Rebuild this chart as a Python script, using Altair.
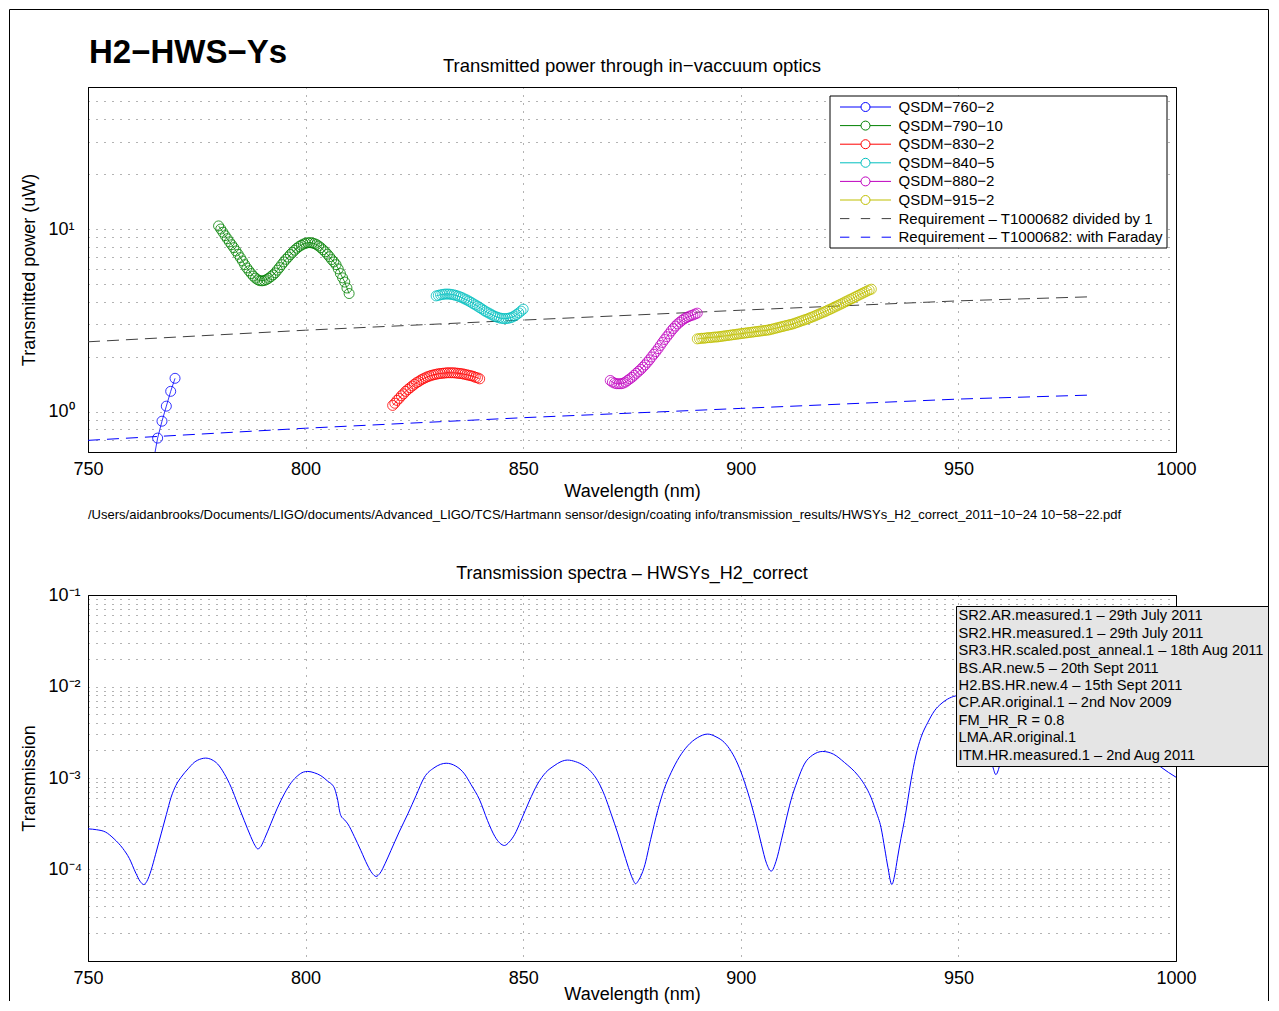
import altair as alt
import numpy as np
import pandas as pd

FONT = "Liberation Sans"

MAIN_TITLE = "H2−HWS−Ys"
TOP_TITLE = "Transmitted power through in−vaccuum optics"
BOTTOM_TITLE = "Transmission spectra – HWSYs_H2_correct"
X_TITLE = "Wavelength (nm)"
TOP_Y_TITLE = "Transmitted power (uW)"
BOTTOM_Y_TITLE = "Transmission"
FILE_PATH = ("/Users/aidanbrooks/Documents/LIGO/documents/Advanced_LIGO/TCS/Hartmann sensor/"
             "design/coating info/transmission_results/HWSYs_H2_correct_2011−10−24 10−58−22.pdf")

QSDM_NAMES = ["QSDM−760−2", "QSDM−790−10", "QSDM−830−2", "QSDM−840−5", "QSDM−880−2",
              "QSDM−915−2"]
QSDM_COLORS = ["#0000ff", "#008000", "#ff0000", "#00bfbf", "#bf00bf", "#bfbf00"]
REQ_NAMES = ["Requirement – T1000682 divided by 1", "Requirement – T1000682: with Faraday"]
REQ_COLORS = ["#404040", "#0000ff"]
SERIES_NAMES = QSDM_NAMES + REQ_NAMES
SERIES_COLORS = QSDM_COLORS + REQ_COLORS
LINE_CIRCLE = "M-3,0H-0.53M0.53,0H3M0.53,0A0.53,0.53,0,1,1,-0.53,0A0.53,0.53,0,1,1,0.53,0"
DASHES = "M-3,0H-1.9M-0.55,0H0.55M1.9,0H3"

# ---- QSDM measurements (transmitted power, uW) ----
WL_760 = [765, 766, 767, 768, 769, 770]
P_760 = [0.53, 0.715, 0.885, 1.07, 1.29, 1.52]

P_790 = [10.4, 10.0, 9.6, 9.2, 8.85, 8.5, 8.2, 7.9, 7.58, 7.27,
         6.97, 6.68, 6.38, 6.12, 5.9, 5.7, 5.52, 5.38, 5.27, 5.21,
         5.2, 5.22, 5.28, 5.37, 5.48, 5.6, 5.75, 5.95, 6.15, 6.38,
         6.6, 6.82, 7.02, 7.25, 7.45, 7.66, 7.85, 8.02, 8.15, 8.27,
         8.36, 8.41, 8.42, 8.39, 8.32, 8.22, 8.07, 7.9, 7.7, 7.5,
         7.28, 7.05, 6.8, 6.6, 6.38, 6.05, 5.7, 5.4, 5.12, 4.75, 4.43]
P_830 = [1.08, 1.11, 1.15, 1.18, 1.22, 1.25, 1.29, 1.32, 1.35, 1.38,
         1.41, 1.44, 1.46, 1.49, 1.51, 1.53, 1.55, 1.565, 1.58, 1.59,
         1.60, 1.61, 1.615, 1.62, 1.625, 1.63, 1.63, 1.63, 1.63, 1.625,
         1.62, 1.615, 1.61, 1.60, 1.59, 1.58, 1.57, 1.56, 1.54, 1.53, 1.51]
P_840 = [4.30, 4.33, 4.36, 4.38, 4.40, 4.40, 4.40, 4.38, 4.36, 4.33,
         4.29, 4.25, 4.20, 4.14, 4.09, 4.03, 3.97, 3.90, 3.84, 3.78,
         3.71, 3.65, 3.58, 3.52, 3.47, 3.42, 3.37, 3.32, 3.29, 3.26,
         3.24, 3.23, 3.23, 3.24, 3.26, 3.29, 3.34, 3.40, 3.47, 3.55, 3.64]
P_880 = [1.48, 1.45, 1.43, 1.42, 1.42, 1.42, 1.43, 1.45, 1.48, 1.51,
         1.54, 1.58, 1.62, 1.66, 1.70, 1.75, 1.80, 1.86, 1.92, 1.99,
         2.06, 2.13, 2.21, 2.30, 2.39, 2.48, 2.57, 2.66, 2.76, 2.85,
         2.94, 3.02, 3.09, 3.16, 3.22, 3.27, 3.31, 3.35, 3.38, 3.42, 3.46]
P_915 = [2.50, 2.51, 2.52, 2.52, 2.53, 2.54, 2.54, 2.55, 2.56, 2.56,
         2.57, 2.58, 2.59, 2.60, 2.61, 2.62, 2.63, 2.64, 2.65, 2.66,
         2.67, 2.68, 2.69, 2.70, 2.71, 2.72, 2.73, 2.74, 2.75, 2.76,
         2.77, 2.78, 2.79, 2.80, 2.82, 2.84, 2.86, 2.88, 2.90, 2.92,
         2.94, 2.96, 2.98, 3.00, 3.02, 3.05, 3.08, 3.11, 3.14, 3.17,
         3.20, 3.23, 3.27, 3.30, 3.34, 3.38, 3.42, 3.46, 3.50, 3.54,
         3.59, 3.63, 3.68, 3.73, 3.78, 3.83, 3.88, 3.93, 3.99, 4.04,
         4.10, 4.15, 4.21, 4.27, 4.33, 4.39, 4.45, 4.51, 4.57, 4.63, 4.68]
STEP = 0.5
STARTS = {"QSDM−790−10": 780, "QSDM−830−2": 820, "QSDM−840−5": 830,
          "QSDM−880−2": 870, "QSDM−915−2": 890}

# ---- requirement curves ----
REQ_WL = [750, 800, 850, 900, 950, 980]
REQ_P = [2.41, 2.79, 3.17, 3.59, 4.04, 4.25]
REQ_FARADAY_P = [0.695, 0.81, 0.925, 1.04, 1.17, 1.23]

# ---- transmission spectrum ----
SPEC_WL = [750, 752, 754, 756, 758, 759.5, 761, 762, 762.8, 763.5, 764.5, 765.5, 766.8, 768,
           769.1, 770.2, 771.4, 773, 774.4, 776, 777, 778.5, 779.8, 781.3, 782.9, 784.4,
           785.9, 787.4, 788.4, 789, 789.7, 790.6, 792, 793.5, 795.1, 796.7, 798.2, 799.5,
           800.5, 802, 803.5, 805, 806.6, 807, 807.4, 807.8, 808.1, 809, 809.7, 811.2,
           812.7, 814.2, 815.3, 816.2, 817.1, 818.3, 819.6, 821.5, 823.5, 825.4, 827.3,
           829.5, 831, 832.3, 834.5, 836.5, 838, 840, 841.8, 843.5, 844.6, 845.7, 846.8,
           848, 849.5, 851.4, 853.3, 855.2, 857.1, 858.7, 860.2, 862, 864, 865.6, 867.1,
           868.7, 870.2, 871.7, 873.2, 874.5, 875.3, 875.8, 876.5, 877.8, 879.3, 880.9,
           882.4, 884, 885.9, 887.8, 890, 892.4, 894.3, 896.2, 897.8, 899.3, 900.9, 902.4,
           903.6, 904.7, 905.9, 907, 908.1, 909.3, 910.4, 911.5, 913, 914.6, 916.5, 918.8,
           921.3, 923.8, 926.9, 928.4, 929.9, 931.1, 932.2, 933.1, 933.8, 934.7, 935.4,
           936, 936.8, 937.6, 939.1, 940.2, 941.4, 943, 944.5, 946, 947.5, 949.4, 951,
           953, 955, 956.5, 957.9, 958.6, 959.4, 960.5, 962, 965, 970, 975, 980, 985, 990,
           994, 996.6, 1000]
SPEC_T = [2.78e-4, 2.72e-4, 2.57e-4, 2.16e-4, 1.70e-4, 1.32e-4, 9.1e-5, 7.4e-5, 6.84e-5,
          7.4e-5, 9.8e-5, 1.45e-4, 2.45e-4, 3.98e-4, 6.17e-4, 8.3e-4, 1.02e-3, 1.26e-3,
          1.48e-3, 1.62e-3, 1.65e-3, 1.58e-3, 1.42e-3, 1.12e-3, 7.9e-4, 5.2e-4, 3.43e-4,
          2.29e-4, 1.82e-4, 1.68e-4, 1.78e-4, 2.19e-4, 3.16e-4, 4.68e-4, 6.7e-4, 8.9e-4,
          1.06e-3, 1.16e-3, 1.18e-3, 1.14e-3, 1.06e-3, 9.3e-4, 7.8e-4, 6.8e-4, 5.66e-4,
          4.37e-4, 3.88e-4, 3.47e-4, 3.15e-4, 2.29e-4, 1.61e-4, 1.12e-4, 9.1e-5, 8.4e-5,
          9.1e-5, 1.17e-4, 1.61e-4, 2.57e-4, 4.06e-4, 6.46e-4, 1.02e-3, 1.29e-3, 1.41e-3,
          1.45e-3, 1.35e-3, 1.11e-3, 8.5e-4, 5.75e-4, 3.43e-4, 2.29e-4, 1.95e-4, 1.83e-4,
          2.0e-4, 2.4e-4, 3.43e-4, 5.6e-4, 8.6e-4, 1.15e-3, 1.36e-3, 1.51e-3, 1.57e-3,
          1.51e-3, 1.36e-3, 1.17e-3, 9.35e-4, 6.46e-4, 4.06e-4, 2.51e-4, 1.48e-4, 9.5e-5,
          7.6e-5, 6.98e-5, 7.6e-5, 1.06e-4, 2.14e-4, 4.4e-4, 7.6e-4, 1.15e-3, 1.70e-3,
          2.25e-3, 2.75e-3, 3.02e-3, 2.82e-3, 2.45e-3, 1.95e-3, 1.42e-3, 8.9e-4, 5.2e-4,
          3.16e-4, 1.91e-4, 1.17e-4, 9.6e-5, 1.23e-4, 2.07e-4, 3.47e-4, 5.66e-4, 9.3e-4,
          1.42e-3, 1.78e-3, 1.95e-3, 1.82e-3, 1.48e-3, 1.07e-3, 8.5e-4, 6.17e-4, 4.27e-4,
          2.9e-4, 1.66e-4, 1.06e-4, 6.85e-5, 8.9e-5, 1.33e-4, 2.19e-4, 3.43e-4, 9.35e-4,
          1.74e-3, 2.77e-3, 4.07e-3, 5.42e-3, 6.46e-3, 7.28e-3, 7.9e-3, 8.1e-3, 7.1e-3,
          4.5e-3, 2.4e-3, 1.33e-3, 1.09e-3, 1.33e-3, 2.4e-3, 4.0e-3, 5.6e-3, 6.3e-3,
          5.6e-3, 4.5e-3, 3.2e-3, 2.2e-3, 1.66e-3, 1.31e-3, 1.02e-3]

SPEC_LEGEND = ["SR2.AR.measured.1 – 29th July 2011",
               "SR2.HR.measured.1 – 29th July 2011",
               "SR3.HR.scaled.post_anneal.1 – 18th Aug 2011",
               "BS.AR.new.5 – 20th Sept  2011",
               "H2.BS.HR.new.4 – 15th Sept  2011",
               "CP.AR.original.1 – 2nd Nov 2009",
               "FM_HR_R  = 0.8",
               "LMA.AR.original.1",
               "ITM.HR.measured.1 – 2nd Aug 2011"]

X_TICKS = [750, 800, 850, 900, 950, 1000]
TOP_Y_TICKS = [0.6, 0.7, 0.8, 0.9, 1, 2, 3, 4, 5, 6, 7, 8, 9, 10, 20, 30, 40, 50, 60]
BOTTOM_Y_TICKS = [float(f"{m}e{e}") for e in (-5, -4, -3, -2) for m in range(1, 10)] + [0.1]

# ---------------- data tables ----------------
rows = [{"wavelength": w, "power": p, "series": QSDM_NAMES[0]} for w, p in zip(WL_760, P_760)]
for name, vals in zip(QSDM_NAMES[1:], [P_790, P_830, P_840, P_880, P_915]):
    for i, p in enumerate(vals):
        rows.append({"wavelength": STARTS[name] + STEP * i, "power": p, "series": name})
qsdm_df = pd.DataFrame(rows)

req_df = pd.concat([
    pd.DataFrame({"wavelength": REQ_WL, "power": REQ_P, "series": REQ_NAMES[0]}),
    pd.DataFrame({"wavelength": REQ_WL, "power": REQ_FARADAY_P, "series": REQ_NAMES[1]}),
])
spec_df = pd.DataFrame({"wavelength": SPEC_WL, "transmission": SPEC_T})
spec_legend_df = pd.DataFrame({"entry": SPEC_LEGEND})

W, H_TOP, H_BOT = 1088, 365, 366
x_scale = alt.Scale(domain=[750, 1000], nice=False, zero=False)

x_top = alt.X("wavelength:Q", scale=x_scale,
              axis=alt.Axis(values=X_TICKS, format="d", title=X_TITLE, labelFlush=False,
                            labelPadding=8, titlePadding=4))
x_bot = alt.X("wavelength:Q", scale=x_scale,
              axis=alt.Axis(values=X_TICKS, format="d", title=X_TITLE, labelFlush=False,
                            labelPadding=8, titleY=24, titleBaseline="top"))

top_y = alt.Y("power:Q",
              scale=alt.Scale(type="log", domain=[0.6, 60], nice=False),
              axis=alt.Axis(values=TOP_Y_TICKS, title=TOP_Y_TITLE,
                            labelExpr="datum.value == 1 ? '10\u2070' : datum.value == 10 ? '10\u00b9' : ''",
                            labelAlign="left", labelPadding=40, titleX=-59,
                            titleBaseline="middle"))

stroke_plain = alt.Stroke("series:N", scale=alt.Scale(domain=SERIES_NAMES, range=SERIES_COLORS),
                          legend=None)


def top_legend(symbol, legend_y):
    return alt.Legend(title=None, orient="none", legendX=746, legendY=legend_y, padding=0,
                      labelFont=FONT, labelFontSize=15, labelColor="black", labelLimit=500,
                      symbolType=symbol, symbolSize=289, symbolStrokeWidth=1,
                      symbolOpacity=1, symbolFillColor="transparent", symbolOffset=22.5,
                      labelOffset=24, rowPadding=1.6)


req_lines = alt.Chart(req_df).mark_line(strokeWidth=1, strokeDash=[12, 7], clip=True).encode(
    x=x_top, y=top_y, stroke=stroke_plain, detail="series:N")
qsdm_lines = alt.Chart(qsdm_df).mark_line(strokeWidth=0.8, clip=True).encode(
    x=x_top, y=top_y, stroke=stroke_plain, detail="series:N")
qsdm_points = alt.Chart(qsdm_df).mark_point(shape="circle", filled=False, size=100,
                                            strokeWidth=0.8, clip=True, opacity=1).encode(
    x=x_top, y=top_y, stroke=stroke_plain)

one = pd.DataFrame({"k": [0]})
legend_box = alt.Chart(one).mark_rect(fill="white", stroke="black", strokeWidth=1).encode(
    x=alt.value(742), x2=alt.value(1079), y=alt.value(9), y2=alt.value(161))
legend_qsdm = alt.Chart(pd.DataFrame({"name": QSDM_NAMES})).mark_point(opacity=0).encode(
    x=alt.value(0), y=alt.value(0),
    color=alt.Color("name:N", scale=alt.Scale(domain=QSDM_NAMES, range=QSDM_COLORS),
                    legend=top_legend(LINE_CIRCLE, 11)))
legend_req = alt.Chart(pd.DataFrame({"req": REQ_NAMES})).mark_point(opacity=0).encode(
    x=alt.value(0), y=alt.value(0),
    color=alt.Color("req:N", scale=alt.Scale(domain=REQ_NAMES, range=REQ_COLORS),
                    legend=top_legend(DASHES, 122.6)))

main_title = alt.Chart(pd.DataFrame({"label": [MAIN_TITLE]})).mark_text(
    align="left", baseline="alphabetic", font=FONT, fontSize=33, fontWeight="bold",
    color="black").encode(x=alt.value(1), y=alt.value(-24), text="label:N")
top_title = alt.Chart(pd.DataFrame({"label": [TOP_TITLE]})).mark_text(
    align="center", baseline="middle", font=FONT, fontSize=18.5, color="black").encode(
    x=alt.value(W / 2), y=alt.value(-21), text="label:N")
path_text = alt.Chart(pd.DataFrame({"label": [FILE_PATH]})).mark_text(
    align="left", baseline="alphabetic", font=FONT, fontSize=13, color="black").encode(
    x=alt.value(0), y=alt.value(432), text="label:N")

frame_left = alt.Chart(one).mark_rule(color="black", strokeWidth=1).encode(
    x=alt.value(-78.5), y=alt.value(-77.5), y2=alt.value(914))
frame_right = alt.Chart(one).mark_rule(color="black", strokeWidth=1).encode(
    x=alt.value(1180.5), y=alt.value(-77.5), y2=alt.value(914))
frame_top = alt.Chart(one).mark_rule(color="black", strokeWidth=1).encode(
    x=alt.value(-78.5), x2=alt.value(1180.5), y=alt.value(-77.5))

top = alt.layer(req_lines, qsdm_lines, qsdm_points, legend_box, legend_qsdm, legend_req,
                main_title, top_title, path_text, frame_left, frame_right,
                frame_top).resolve_scale(color="independent").resolve_legend(
    color="independent").properties(width=W, height=H_TOP)

bottom_y = alt.Y("transmission:Q",
                 scale=alt.Scale(type="log", domain=[1e-5, 1e-1], nice=False),
                 axis=alt.Axis(values=BOTTOM_Y_TICKS, title=BOTTOM_Y_TITLE,
                               labelExpr=("datum.value == 0.0001 ? '10\u207b\u2074' : "
                                          "datum.value == 0.001 ? '10\u207b\u00b3' : "
                                          "datum.value == 0.01 ? '10\u207b\u00b2' : "
                                          "datum.value == 0.1 ? '10\u207b\u00b9' : ''"),
                               labelAlign="left", labelPadding=40, titleX=-59,
                               titleBaseline="middle"))

spec_line = alt.Chart(spec_df).mark_line(color="#0000ff", strokeWidth=1, interpolate="monotone",
                                         clip=True).encode(x=x_bot, y=bottom_y)
spec_legend = alt.Chart(spec_legend_df).mark_point(opacity=0).encode(
    x=alt.value(0), y=alt.value(0),
    color=alt.Color("entry:N", scale=alt.Scale(domain=SPEC_LEGEND, range=["#000000"] * len(SPEC_LEGEND)),
                    legend=alt.Legend(title=None, orient="none", legendX=868, legendY=11,
                                      padding=3, fillColor="#e5e5e5", strokeColor="black",
                                      labelFont=FONT, labelFontSize=14.6, labelColor="black",
                                      labelLimit=500, symbolSize=0, symbolOpacity=0,
                                      symbolStrokeWidth=0, symbolOffset=0,
                                      labelOffset={"expr": "-15"},
                                      rowPadding=2.4)))

bottom = alt.layer(spec_line, spec_legend).properties(
    width=W, height=H_BOT, title=alt.Title(BOTTOM_TITLE, offset=3))

chart = alt.vconcat(top, bottom, spacing=143, bounds="flush").resolve_scale(
    color="independent", stroke="independent").resolve_legend(
    color="independent").properties(padding=0).configure_view(
    stroke="black", strokeWidth=1).configure_axis(
    labelFont=FONT, labelFontSize=18, labelColor="black", titleFont=FONT, titleFontSize=18,
    titleFontWeight="normal", titleColor="black", domainColor="black", domainWidth=1,
    ticks=False, tickSize=0, grid=True, gridColor="#000000", gridDash=[1, 7],
    gridOpacity=0.6, gridWidth=1, labelOverlap=False).configure_title(
    font=FONT, fontSize=18, fontWeight="normal", color="black")

chart.save("out.html", embed_options={"renderer": "svg", "actions": False})
